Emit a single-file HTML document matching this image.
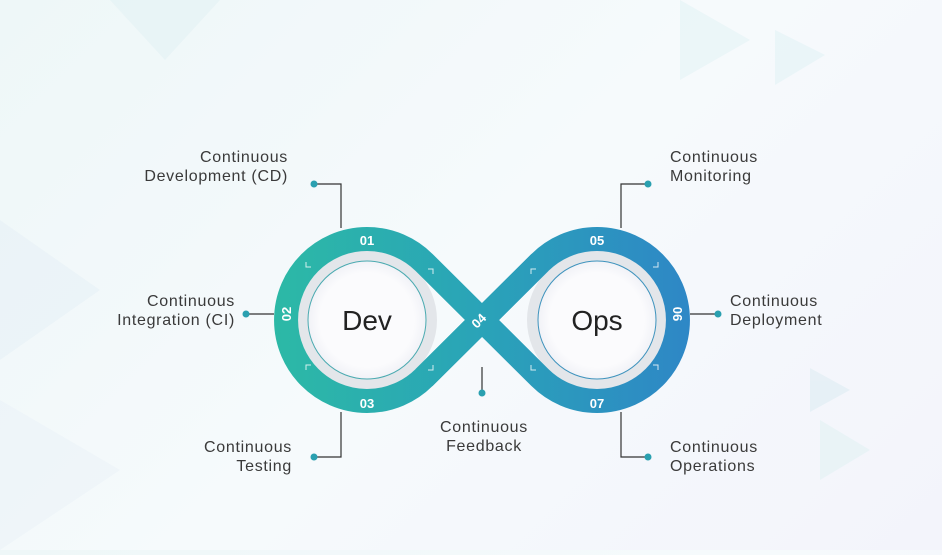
<!DOCTYPE html>
<html><head><style>
html,body{margin:0;padding:0;}
body{width:942px;height:550px;overflow:hidden;background:linear-gradient(135deg,#eef7f8 0%,#f6fafc 50%,#f3f4fb 100%);font-family:"Liberation Sans",sans-serif;}
</style></head><body>
<svg width="942" height="550" viewBox="0 0 942 550" xmlns="http://www.w3.org/2000/svg">
<defs>
<linearGradient id="g" x1="274" y1="0" x2="690" y2="0" gradientUnits="userSpaceOnUse">
<stop offset="0" stop-color="#2cb9a6"/><stop offset="0.5" stop-color="#2aa3b8"/><stop offset="1" stop-color="#2e87c6"/>
</linearGradient>
<radialGradient id="w" cx="0.5" cy="0.5" r="0.5"><stop offset="0.8" stop-color="#fbfbfd"/><stop offset="1" stop-color="#f1f2f7"/></radialGradient>
</defs>
<g opacity="0.35">
<polygon points="110,0 220,0 165,60" fill="#dbeff2"/>
<polygon points="680,0 750,40 680,80" fill="#d6eff0"/>
<polygon points="775,30 825,55 775,85" fill="#d3eef0"/>
<polygon points="810,368 850,390 810,412" fill="#cfe6ee"/>
<polygon points="0,220 100,290 0,360" fill="#e0ecf3"/>
<polygon points="0,400 120,470 0,550" fill="#e6eef5"/>
<polygon points="820,420 870,450 820,480" fill="#d6f0ef"/>
</g>
<circle cx="367" cy="320" r="70" fill="#e3e6ea"/>
<circle cx="597" cy="320" r="70" fill="#e3e6ea"/>
<path d="M424.1 262.5 L539.9 377.5 A81 81 0 1 0 539.9 262.5 L424.1 377.5 A81 81 0 1 1 424.1 262.5 Z" fill="none" stroke="url(#g)" stroke-width="24" stroke-linejoin="round"/>
<line x1="424.1" y1="377.5" x2="539.9" y2="262.5" stroke="url(#g)" stroke-width="24"/>
<circle cx="367" cy="320" r="59" fill="url(#w)" stroke="#4aaab0" stroke-width="1"/>
<circle cx="597" cy="320" r="59" fill="url(#w)" stroke="#3e93bd" stroke-width="1"/>
<g font-family="Liberation Sans,sans-serif" font-size="28" fill="#222" text-anchor="middle">
<text x="367" y="330">Dev</text><text x="597" y="330">Ops</text>
</g>
<g font-family="Liberation Sans,sans-serif" font-size="13" font-weight="bold" fill="#fff" text-anchor="middle">
<text x="367" y="245">01</text>
<text x="367" y="408">03</text>
<text x="597" y="245">05</text>
<text x="597" y="408">07</text>
<text transform="translate(291,314) rotate(-90)">02</text>
<text transform="translate(673,314) rotate(90)">06</text>
<text transform="translate(482,324) rotate(-45)">04</text>
</g>
<g fill="none" stroke="#fff" stroke-width="1" opacity="0.8">
<path d="M306 262v5h5"/><path d="M306 370v-5h5"/><path d="M428 269h5v5"/><path d="M428 370h5v-5"/>
<path d="M658 262v5h-5"/><path d="M658 370v-5h-5"/><path d="M536 269h-5v5"/><path d="M536 370h-5v-5"/>
</g>
<g stroke="#333" stroke-width="1.2" fill="none">
<path d="M314 184H341V228"/>
<path d="M246 314H274"/>
<path d="M314 457H341V412"/>
<path d="M648 184H621V228"/>
<path d="M718 314H690"/>
<path d="M648 457H621V412"/>
<path d="M482 367V393"/>
</g>
<g fill="#2aa0b0">
<circle cx="314" cy="184" r="3.5"/><circle cx="246" cy="314" r="3.5"/><circle cx="314" cy="457" r="3.5"/>
<circle cx="648" cy="184" r="3.5"/><circle cx="718" cy="314" r="3.5"/><circle cx="648" cy="457" r="3.5"/>
<circle cx="482" cy="393" r="3.5"/>
</g>
<g font-family="Liberation Sans,sans-serif" font-size="16" letter-spacing="0.7" fill="#3a3a3a">
<g text-anchor="end">
<text x="288" y="162">Continuous</text><text x="288" y="181">Development (CD)</text>
<text x="235" y="306">Continuous</text><text x="235" y="325">Integration (CI)</text>
<text x="292" y="452">Continuous</text><text x="292" y="471">Testing</text>
</g>
<text x="670" y="162">Continuous</text><text x="670" y="181">Monitoring</text>
<text x="730" y="306">Continuous</text><text x="730" y="325">Deployment</text>
<text x="670" y="452">Continuous</text><text x="670" y="471">Operations</text>
<g text-anchor="middle"><text x="484" y="432">Continuous</text><text x="484" y="451">Feedback</text></g>
</g>
</svg>
</body></html>
